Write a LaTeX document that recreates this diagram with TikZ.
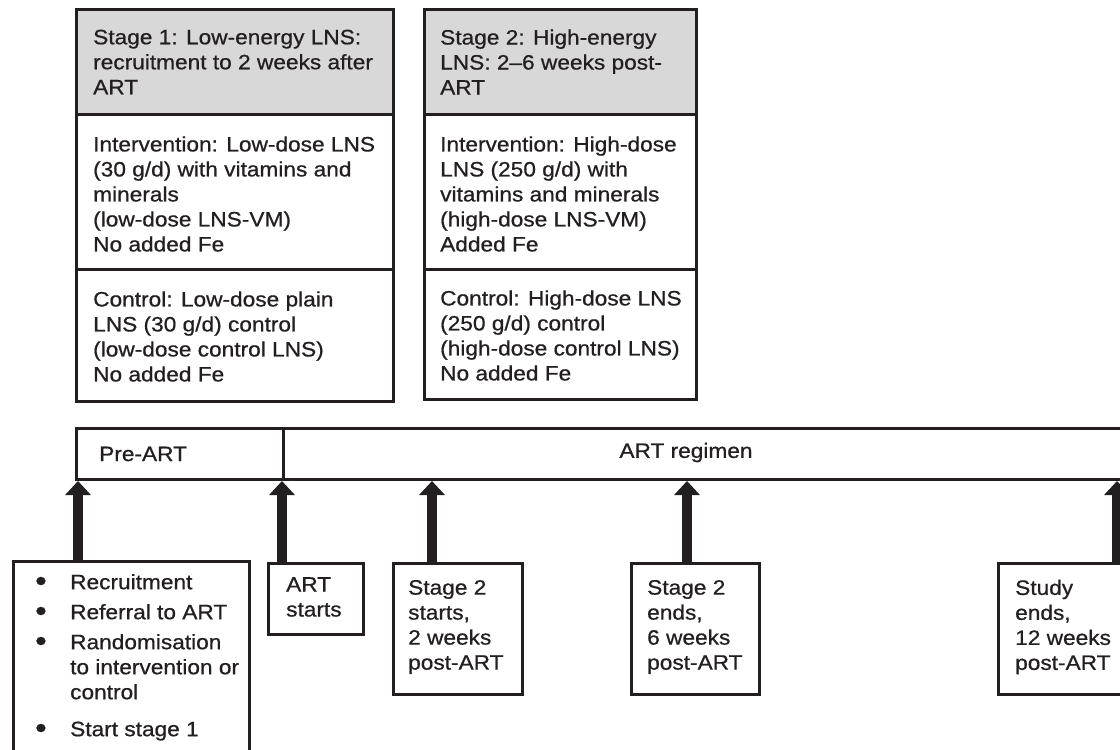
\documentclass[tikz,border=0pt]{standalone}
\usepackage{fontspec}
\setmainfont[FakeStretch=1.09,FakeBold=0.7]{Liberation Sans}
\usetikzlibrary{arrows.meta}
\definecolor{ink}{HTML}{231F20}
\definecolor{hdr}{HTML}{D8D8D8}
\newcommand{\bigbul}{\raisebox{-1.8pt}{\scalebox{1.45}{\textbullet}}}
\begin{document}
\begin{tikzpicture}[x=1pt,y=-1pt,
  box/.style={draw=ink, line width=3pt, anchor=north west, inner sep=0pt, fill=white},
  txt/.style={align=left, inner sep=0pt, text=ink, font=\fontsize{20.8}{25}\selectfont},
  bigarrow/.style={draw=ink, line width=10pt, -{Triangle[width=25pt,length=14pt]}}]
\useasboundingbox (0,0) rectangle (1120,750);
\clip (0,0) rectangle (1120,750);
\fill[white] (0,0) rectangle (1120,750);
% Stage 1 column
\node[box, fill=hdr, minimum width=317pt, minimum height=105pt] (s1h) at (75,8) {};
\node[box, minimum width=317pt, minimum height=155pt] (s1i) at (75,113) {};
\node[box, minimum width=317pt, minimum height=132pt] (s1c) at (75,268) {};
\node[txt, anchor=west] (s1ht) at ([xshift=18pt]s1h.west) {Stage 1: Low-energy LNS:\\recruitment to 2 weeks after\\ART};
\node[txt, anchor=west] (s1it) at ([xshift=18pt,yshift=-2pt]s1i.west) {Intervention: Low-dose LNS\\(30 g/d) with vitamins and\\minerals\\(low-dose LNS-VM)\\No added Fe};
\node[txt, anchor=west] (s1ct) at ([xshift=18pt,yshift=-1pt]s1c.west) {Control: Low-dose plain\\LNS (30 g/d) control\\(low-dose control LNS)\\No added Fe};
% Stage 2 column
\node[box, fill=hdr, minimum width=272pt, minimum height=105pt] (s2h) at (423,8) {};
\node[box, minimum width=272pt, minimum height=155pt] (s2i) at (423,113) {};
\node[box, minimum width=272pt, minimum height=130pt] (s2c) at (423,268) {};
\node[txt, anchor=west] (s2ht) at ([xshift=17pt]s2h.west) {Stage 2: High-energy\\LNS: 2–6 weeks post-\\ART};
\node[txt, anchor=west] (s2it) at ([xshift=17pt,yshift=-2pt]s2i.west) {Intervention: High-dose\\LNS (250 g/d) with\\vitamins and minerals\\(high-dose LNS-VM)\\Added Fe};
\node[txt, anchor=west] (s2ct) at ([xshift=17pt,yshift=-1pt]s2c.west) {Control: High-dose LNS\\(250 g/d) control\\(high-dose control LNS)\\No added Fe};
% timeline bar
\node[box, minimum width=207pt, minimum height=51pt] (pre) at (75,427) {};
\node[box, minimum width=860pt, minimum height=51pt] (reg) at (282,427) {};
\node[txt, anchor=west] (pret) at ([xshift=24pt]pre.west) {Pre-ART};
\node[txt] (regt) at (686,452.5) {ART regimen};
% event boxes
\node[box, minimum width=236pt, minimum height=220pt] (b1) at (12,560) {};
\node[box, minimum width=95pt, minimum height=71pt] (b2) at (267,562) {};
\node[box, minimum width=129pt, minimum height=131pt] (b3) at (392,562) {};
\node[box, minimum width=128pt, minimum height=131pt] (b4) at (630,562) {};
\node[box, minimum width=150pt, minimum height=131pt] (b5) at (997,562) {};
\node[txt, anchor=north west] (b1t) at (35,571.5) {\begin{tabular}{@{}p{35pt}@{}l@{}}
\bigbul & Recruitment\\[5pt]
\bigbul & Referral to ART\\[5pt]
\bigbul & Randomisation\\
 & to intervention or\\
 & control\\[12pt]
\bigbul & Start stage 1
\end{tabular}};
\node[txt, anchor=west] (b2t) at ([xshift=19pt,yshift=2pt]b2.west) {ART\\starts};
\node[txt, anchor=west] (b3t) at ([xshift=16pt,yshift=2pt]b3.west) {Stage 2\\starts,\\2 weeks\\post-ART};
\node[txt, anchor=west] (b4t) at ([xshift=17pt,yshift=2pt]b4.west) {Stage 2\\ends,\\6 weeks\\post-ART};
\node[txt, anchor=west] (b5t) at ([xshift=18pt,yshift=2pt]b5.west) {Study\\ends,\\12 weeks\\post-ART};
% arrows
\coordinate (a1) at (78,0);
\coordinate (a2) at (282,0);
\coordinate (a3) at (432,0);
\coordinate (a4) at (687,0);
\coordinate (a5) at (1117,0);
\draw[bigarrow] (b1.north -| a1) -- (pre.south -| a1);
\draw[bigarrow] (b2.north -| a2) -- (pre.south -| a2);
\draw[bigarrow] (b3.north -| a3) -- (reg.south -| a3);
\draw[bigarrow] (b4.north -| a4) -- (reg.south -| a4);
\draw[bigarrow] (b5.north -| a5) -- (reg.south -| a5);
\end{tikzpicture}
\end{document}
